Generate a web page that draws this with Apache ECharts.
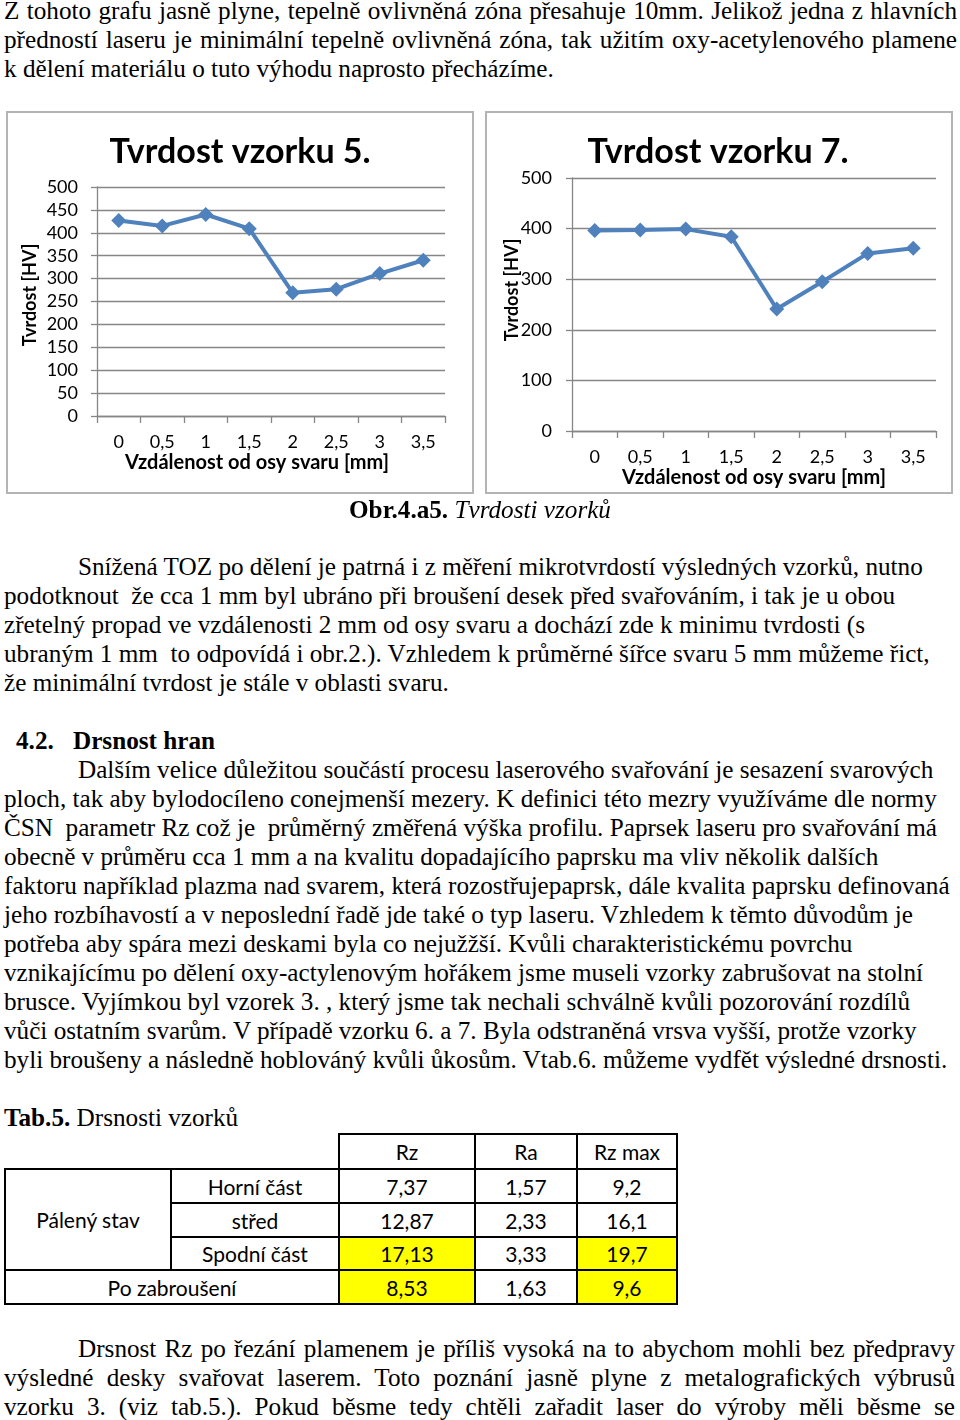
<!DOCTYPE html>
<html>
<head>
<meta charset="utf-8">
<script src="https://cdn.jsdelivr.net/npm/echarts@6/dist/echarts.min.js"></script>
<style>
html,body{margin:0;padding:0;background:#fff;}
body{width:960px;height:1420px;position:relative;overflow:hidden;font-family:'Liberation Serif','Times New Roman',serif;font-size:25.2px;color:#000;}
.blk{position:absolute;left:4px;width:953px;line-height:29px;}
.blk div{white-space:pre;}
.blk div.j{white-space:normal;text-align:justify;text-align-last:justify;}
.ind{padding-left:74px;}
#chart{position:absolute;left:0;top:100px;width:960px;height:400px;}
#tab{position:absolute;left:4px;top:1133px;border-collapse:collapse;font-family:Lato,'Open Sans',sans-serif;font-size:21px;table-layout:fixed;}
#tab td{border:2px solid #000;text-align:center;padding:0;}
#tab td.nb{border:none;}
#tab td.y{background:#ffff00;}
</style>
</head>
<body>

<div class="blk" style="top:-3.6px">
<div class="j">Z tohoto grafu jasně plyne, tepelně ovlivněná zóna přesahuje 10mm. Jelikož jedna z hlavních</div>
<div class="j">předností laseru je minimální tepelně ovlivněná zóna, tak užitím oxy-acetylenového plamene</div>
<div>k dělení materiálu o tuto výhodu naprosto přecházíme.</div>
</div>

<div id="chart"></div>

<div class="blk" style="top:495px;text-align:center;left:0;width:960px"><div><b>Obr.4.a5.</b> <i>Tvrdosti vzorků</i></div></div>

<div class="blk" style="top:552px">
<div class="ind">Snížená TOZ po dělení je patrná i z měření mikrotvrdostí výsledných vzorků, nutno</div>
<div>podotknout  že cca 1 mm byl ubráno při broušení desek před svařováním, i tak je u obou</div>
<div>zřetelný propad ve vzdálenosti 2 mm od osy svaru a dochází zde k minimu tvrdosti (s</div>
<div>ubraným 1 mm  to odpovídá i obr.2.). Vzhledem k průměrné šířce svaru 5 mm můžeme řict,</div>
<div>že minimální tvrdost je stále v oblasti svaru.</div>
</div>

<div class="blk" style="top:725.6px;left:16px;font-weight:bold"><div>4.2.</div></div>
<div class="blk" style="top:725.6px;left:73px;font-weight:bold;width:400px"><div>Drsnost hran</div></div>

<div class="blk" style="top:754.6px">
<div class="ind">Dalším velice důležitou součástí procesu laserového svařování je sesazení svarových</div>
<div>ploch, tak aby bylodocíleno conejmenší mezery. K definici této mezry využíváme dle normy</div>
<div>ČSN  parametr Rz což je  průměrný změřená výška profilu. Paprsek laseru pro svařování má</div>
<div>obecně v průměru cca 1 mm a na kvalitu dopadajícího paprsku ma vliv několik dalších</div>
<div>faktoru například plazma nad svarem, která rozostřujepaprsk, dále kvalita paprsku definovaná</div>
<div>jeho rozbíhavostí a v neposlední řadě jde také o typ laseru. Vzhledem k těmto důvodům je</div>
<div>potřeba aby spára mezi deskami byla co nejužžší. Kvůli charakteristickému povrchu</div>
<div>vznikajícímu po dělení oxy-actylenovým hořákem jsme museli vzorky zabrušovat na stolní</div>
<div>brusce. Vyjímkou byl vzorek 3. , který jsme tak nechali schválně kvůli pozorování rozdílů</div>
<div>vůči ostatním svarům. V případě vzorku 6. a 7. Byla odstraněná vrsva vyšší, protže vzorky</div>
<div>byli broušeny a následně hoblováný kvůli ůkosům. Vtab.6. můžeme vydfět výsledné drsnosti.</div>
</div>

<div class="blk" style="top:1102.6px"><div><b>Tab.5.</b> Drsnosti vzorků</div></div>

<table id="tab"></table>

<div class="blk" style="top:1333.6px;width:951px">
<div class="j ind">Drsnost Rz po řezání plamenem je příliš vysoká na to abychom mohli bez předpravy</div>
<div class="j">výsledné desky svařovat laserem. Toto poznání jasně plyne z metalografických výbrusů</div>
<div class="j">vzorku 3. (viz tab.5.). Pokud běsme tedy chtěli zařadit laser do výroby měli běsme se</div>
</div>

<script>
// ---- chart data ----
const categories = ['0', '0,5', '1', '1,5', '2', '2,5', '3', '3,5'];
const hardnessSample5 = [427, 415, 440, 409, 269, 277, 311, 340];
const hardnessSample7 = [396, 397, 399, 384, 241, 295, 351, 361];
const chartTitles = ['Tvrdost vzorku 5.', 'Tvrdost vzorku 7.'];
const xAxisName = 'Vzdálenost od osy svaru [mm]';
const yAxisName = 'Tvrdost [HV]';
const yMin = 0, yMax = 500;
const yStepSample5 = 50, yStepSample7 = 100;

// ---- table data ----
const tableHeader = ['Rz', 'Ra', 'Rz max'];
const groupLabel = 'Pálený stav';
const rowLabels = ['Horní část', 'střed', 'Spodní část'];
const afterLabel = 'Po zabroušení';
const rzValues = ['7,37', '12,87', '17,13', '8,53'];
const raValues = ['1,57', '2,33', '3,33', '1,63'];
const rzMaxValues = ['9,2', '16,1', '19,7', '9,6'];
const highlighted = [false, false, true, true];

// build table
(function () {
  const t = document.getElementById('tab');
  const colW = [166, 168, 136, 102, 100];
  const rowH = [35, 34, 34, 33, 34];
  let html = '<colgroup>' + colW.map(w => '<col style="width:' + w + 'px">').join('') + '</colgroup>';
  html += '<tr style="height:' + rowH[0] + 'px"><td class="nb"></td><td class="nb"></td>' +
    tableHeader.map(h => '<td>' + h + '</td>').join('') + '</tr>';
  for (let i = 0; i < 4; i++) {
    const yc = highlighted[i] ? ' class="y"' : '';
    html += '<tr style="height:' + rowH[i + 1] + 'px">';
    if (i === 0) html += '<td rowspan="3">' + groupLabel + '</td>';
    if (i < 3) html += '<td>' + rowLabels[i] + '</td>';
    else html += '<td colspan="2">' + afterLabel + '</td>';
    html += '<td' + yc + '>' + rzValues[i] + '</td><td>' + raValues[i] + '</td><td' + yc + '>' + rzMaxValues[i] + '</td></tr>';
  }
  t.innerHTML = html;
})();

// build charts
const gray = '#868686';
const blue = '#4F81BD';
const F = 'Lato, "Open Sans", sans-serif';
const chart = echarts.init(document.getElementById('chart'), null, {renderer: 'canvas'});

function xAx(i) {
  return {
    type: 'category', gridIndex: i, data: categories, boundaryGap: true,
    axisLine: {show: true, lineStyle: {color: gray, width: 1.3}},
    axisTick: {show: true, interval: 0, length: 7, lineStyle: {color: gray, width: 1.3}},
    axisLabel: {interval: 0, margin: 17, color: '#000', fontSize: 18, fontFamily: F},
    splitLine: {show: false}
  };
}
function yAx(i, step, margin) {
  return {
    type: 'value', gridIndex: i, min: yMin, max: yMax, interval: step,
    axisLine: {show: true, lineStyle: {color: gray, width: 1.3}},
    axisTick: {show: true, length: 6, lineStyle: {color: gray, width: 1.3}},
    axisLabel: {margin: margin, color: '#000', fontSize: 18, fontFamily: F},
    splitLine: {show: true, lineStyle: {color: gray, width: 1.3}}
  };
}
function ser(i, data) {
  return {
    type: 'line', xAxisIndex: i, yAxisIndex: i, data: data,
    symbol: 'diamond', symbolSize: 15, showSymbol: true,
    lineStyle: {color: blue, width: 4}, itemStyle: {color: blue},
    silent: true
  };
}
function txt(x, y, s, font, rot) {
  return {type: 'text', x: x, y: y, rotation: rot || 0, silent: true,
    style: {text: s, font: font, fill: '#000', textAlign: 'center', textVerticalAlign: 'middle'}};
}

chart.setOption({
  animation: false,
  graphic: [
    {type: 'rect', silent: true, shape: {x: 7, y: 12, width: 466, height: 381}, style: {fill: 'none', stroke: '#b4b4b4', lineWidth: 2}},
    {type: 'rect', silent: true, shape: {x: 486, y: 12, width: 466, height: 381}, style: {fill: 'none', stroke: '#b4b4b4', lineWidth: 2}},
    txt(240, 52, chartTitles[0], 'bold 34px ' + F),
    txt(718, 52, chartTitles[1], 'bold 34px ' + F),
    txt(257, 363, xAxisName, 'bold 20px ' + F),
    txt(754, 378, xAxisName, 'bold 20px ' + F),
    txt(30, 195, yAxisName, 'bold 18px ' + F, Math.PI / 2),
    txt(512, 190, yAxisName, 'bold 18px ' + F, Math.PI / 2)
  ],
  grid: [
    {left: 97, top: 87, width: 348, height: 229},
    {left: 572, top: 78, width: 364, height: 253}
  ],
  xAxis: [xAx(0), xAx(1)],
  yAxis: [yAx(0, yStepSample5, 19), yAx(1, yStepSample7, 20)],
  series: [ser(0, hardnessSample5), ser(1, hardnessSample7)]
});
</script>
</body>
</html>
